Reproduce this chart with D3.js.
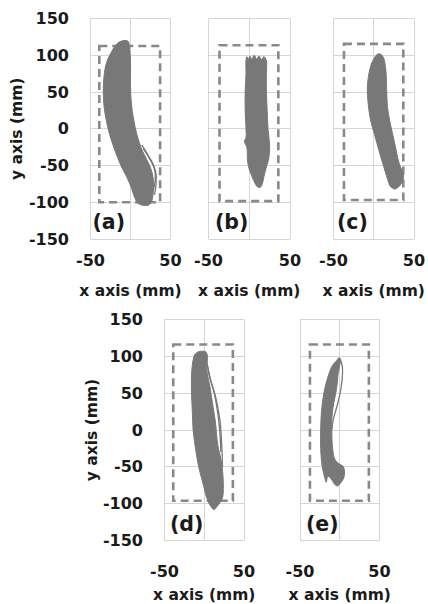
<!DOCTYPE html>
<html><head><meta charset="utf-8">
<script src="https://cdn.jsdelivr.net/npm/d3@7"></script>
<style>body{margin:0;background:#fff}</style>
</head><body><svg id="c" width="428" height="604"></svg>
<script>
// ---- data ----
const panelLabels = ["(a)", "(b)", "(c)", "(d)", "(e)"];
const xDomain = [-50, 50];
const yDomain = [-150, 150];
const xGrid = [-50, 0, 50];
const xTickLabels = [-50, 50];
const yTicks = [-150, -100, -50, 0, 50, 100, 150];
const xTitle = "x axis (mm)";
const yTitle = "y axis (mm)";

// dashed workspace boxes (mm)
const boxX0 = [-39, -36.5, -37, -39, -37.5];
const boxX1 = [37, 35.7, 36.7, 36, 36.6];
const boxY0 = [-100, -98.5, -97, -96, -96];
const boxY1 = [112.5, 113.7, 115.5, 116, 116];

// envelope of the trajectories [x, y] (mm)
const outlineA = [[-19,113],[-14,118],[-8,120],[-3,119],[-1,108],[0,90],[0,60],[1,35],[4,12],[8,-8],[13,-25],[18,-37],[23,-48],[27,-60],[29,-75],[28,-90],[26,-100],[22,-104],[15,-104],[9,-101],[5,-93],[1,-80],[-5,-65],[-12,-50],[-20,-28],[-26,-8],[-30,10],[-33,30],[-34,50],[-33,72],[-30,90],[-25,102]];
const outlineB = [[-4,93],[-3,98],[-1,95],[1,99],[3,94],[6,100],[9,95],[12,99],[15,94],[18,98],[21,93],[21,75],[21,50],[22,25],[23,0],[25,-23],[24,-40],[21,-52],[18,-65],[16,-75],[13,-80],[10,-79],[7,-74],[3,-64],[0,-55],[-2,-45],[-3,-25],[-6,-17],[-4,-12],[-4,0],[-5,25],[-5,50],[-4,75]];
const outlineC = [[0,95],[3,100],[6,102],[9,101],[12,97],[15,80],[16,55],[17,30],[20,10],[23,-5],[27,-25],[31,-45],[35,-57],[37,-65],[35,-73],[31,-79],[26,-82],[21,-79],[17,-68],[12,-50],[6,-28],[1,-8],[-4,12],[-7,35],[-8,55],[-6,75],[-3,88]];
const outlineD = [[-12,102],[-8,106],[-3,107],[2,106],[4,100],[3,85],[5,70],[7,60],[9,46],[12,25],[14,11],[17,-20],[21,-40],[23,-55],[24,-75],[23,-92],[20,-98],[16,-104],[12,-108],[8,-103],[6,-100],[2,-88],[-1,-75],[-7,-50],[-11,-25],[-14,0],[-15,25],[-16,50],[-16,75],[-14,95]];
const outlineE = [[-4,94],[-1,98],[1,96],[0,88],[-2,77],[-4,56],[-8,34],[-10,15],[-10,0],[-9,-25],[-6,-40],[-1,-46],[4,-49],[6,-56],[5,-65],[1,-72],[-3,-76],[-7,-73],[-11,-66],[-15,-63],[-17,-71],[-19,-64],[-22,-50],[-24,-25],[-24,0],[-23,25],[-20,50],[-14,75],[-9,88]];

// stray trajectories drawn apart from the main bundle
const strandsA = [[[14,-22],[22,-36],[29,-50],[32,-62],[32,-75],[30,-90]], [[16,-27],[24,-41],[30,-55],[31,-70],[28,-85]]];
const strandsB = [];
const strandsC = [];
const strandsD = [[[3,95],[6,75],[10,60],[14,46],[18,25],[20,11],[22,-20],[23,-50]], [[4,88],[8,68],[12,53],[16,30],[19,5],[21,-30]]];
const strandsE = [[[0,97],[3,88],[3.5,77],[1.5,56],[-3,34],[-8,15],[-10,0]]];

const outlines = [outlineA, outlineB, outlineC, outlineD, outlineE];
const strands = [strandsA, strandsB, strandsC, strandsD, strandsE];

// ---- layout ----
const layout = [
  {l:90.5, r:170.5, t:18.5, b:239, yAxis:true, tickY:260, titleY:291, yTitleX:17, labDx:2},
  {l:208.5, r:290, t:18.5, b:239, yAxis:false, tickY:260, titleY:291, labDx:6.5},
  {l:333.5, r:414, t:18.5, b:239, yAxis:false, tickY:260, titleY:291, labDx:3.5},
  {l:164.5, r:244, t:319.5, b:540.5, yAxis:true, tickY:571.5, titleY:595, yTitleX:91.5, labDx:5.5},
  {l:300, r:379.5, t:319.5, b:540.5, yAxis:false, tickY:571.5, titleY:595, labDx:6}
];

const FONT = "'DejaVu Sans', sans-serif";
const TEXT = "#1a1a1a";
const GRID = "#d6d6d6";
const BLOB = "#787878";
const DASH = "#898989";

const svg = d3.select("#c");
const crisp = v => Math.round(v - 0.5) + 0.5;

layout.forEach((L, i) => {
  const x = d3.scaleLinear().domain(xDomain).range([L.l, L.r]);
  const y = d3.scaleLinear().domain(yDomain).range([L.b, L.t]);
  const g = svg.append("g");

  // grid
  g.selectAll(".gx").data(xGrid).join("line")
    .attr("x1", d => crisp(x(d))).attr("x2", d => crisp(x(d)))
    .attr("y1", y(yDomain[0])).attr("y2", y(yDomain[1]))
    .attr("stroke", GRID).attr("stroke-width", 1);
  g.selectAll(".gy").data(yTicks).join("line")
    .attr("y1", d => crisp(y(d))).attr("y2", d => crisp(y(d)))
    .attr("x1", x(xDomain[0])).attr("x2", x(xDomain[1]))
    .attr("stroke", GRID).attr("stroke-width", 1);

  // dashed box
  g.append("rect")
    .attr("x", x(boxX0[i])).attr("y", y(boxY1[i]))
    .attr("width", x(boxX1[i]) - x(boxX0[i]))
    .attr("height", y(boxY0[i]) - y(boxY1[i]))
    .attr("fill", "none").attr("stroke", DASH)
    .attr("stroke-width", 2.6).attr("stroke-dasharray", "8,5");

  // trajectory bundle
  const area = d3.line().x(d => x(d[0])).y(d => y(d[1])).curve(d3.curveCatmullRomClosed.alpha(0.5));
  g.append("path").attr("d", area(outlines[i]))
    .attr("fill", BLOB).attr("stroke", BLOB).attr("stroke-width", 1);
  const sline = d3.line().x(d => x(d[0])).y(d => y(d[1])).curve(d3.curveCatmullRom.alpha(0.5));
  g.selectAll(".strand").data(strands[i]).join("path")
    .attr("d", d => sline(d)).attr("fill", "none")
    .attr("stroke", BLOB).attr("stroke-width", 1.3);

  // panel label
  g.append("text").attr("x", L.l + L.labDx).attr("y", L.b - 10)
    .attr("font-family", FONT).attr("font-weight", "bold").attr("font-size", 20.5)
    .attr("fill", TEXT).text(panelLabels[i]);

  // x tick labels
  g.selectAll(".xt").data(xTickLabels).join("text")
    .attr("x", d => x(d)).attr("y", L.tickY)
    .attr("text-anchor", "middle").attr("dominant-baseline", "central")
    .attr("font-family", FONT).attr("font-weight", "bold").attr("font-size", 16)
    .attr("fill", TEXT).text(d => d);
  // x title
  g.append("text").attr("x", (L.l + L.r) / 2).attr("y", L.titleY)
    .attr("text-anchor", "middle").attr("dominant-baseline", "central")
    .attr("font-family", FONT).attr("font-weight", "bold").attr("font-size", 15.5)
    .attr("fill", TEXT).text(xTitle);

  if (L.yAxis) {
    g.selectAll(".yt").data(yTicks).join("text")
      .attr("x", L.l - 21.5).attr("y", d => y(d))
      .attr("text-anchor", "end").attr("dominant-baseline", "central")
      .attr("font-family", FONT).attr("font-weight", "bold").attr("font-size", 16)
      .attr("fill", TEXT).text(d => d);
    const cy = (L.t + L.b) / 2;
    g.append("text").attr("transform", `translate(${L.yTitleX},${cy}) rotate(-90)`)
      .attr("text-anchor", "middle").attr("dominant-baseline", "central")
      .attr("font-family", FONT).attr("font-weight", "bold").attr("font-size", 15.5)
      .attr("fill", TEXT).text(yTitle);
  }
});
</script>
</body></html>
